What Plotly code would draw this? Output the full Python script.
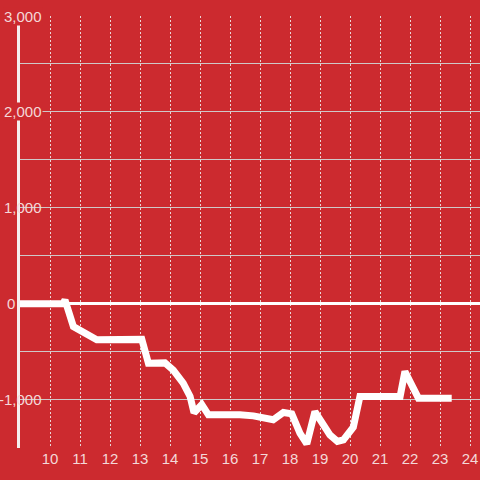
import plotly.graph_objects as go

# data
hours = [9.0, 10.43, 10.5, 10.78, 11.56, 13.06, 13.28, 13.83, 14.11, 14.44, 14.67, 14.8,
         15.06, 15.28, 16.33, 16.78, 17.44, 17.78, 18.06, 18.33, 18.56, 18.83, 19.33,
         19.58, 19.78, 20.11, 20.33, 21.67, 21.83, 22.28, 23.39]
values = [0, 0, 40, -236, -375, -370, -618, -615, -690, -826, -965, -1135,
          -1050, -1156, -1156, -1167, -1208, -1132, -1146, -1347, -1458, -1122, -1365,
          -1434, -1417, -1285, -965, -965, -705, -983, -983]
x_ticks = list(range(10, 25))
y_label_vals = [3000, 2000, 1000, 0, -1000]
y_label_text = ["3,000", "2,000", "1,000", "0", "-1,000"]

BG = "#cc2a2f"
LABEL = "#f4d8d8"
FONT = "Liberation Sans, Arial"

fig = go.Figure()
fig.add_trace(go.Scatter(x=hours, y=values, mode="lines",
                         line=dict(color="white", width=7), hoverinfo="skip"))

annotations = []
for v, t in zip(y_label_vals, y_label_text):
    px = 16 if v == 0 else 43
    annotations.append(dict(
        xref="paper", yref="y", x=(px - 20) / 460, y=v, text=t, showarrow=False,
        xanchor="right", yanchor="middle",
        bgcolor=BG if v >= 2000 else "rgba(0,0,0,0)",
        borderpad=0, font=dict(family=FONT, size=15, color=LABEL)))

fig.update_layout(
    width=480, height=480,
    margin=dict(l=20, r=0, t=16, b=32),
    paper_bgcolor=BG, plot_bgcolor=BG,
    showlegend=False,
    annotations=annotations,
    font=dict(family=FONT, size=15, color=LABEL),
    xaxis=dict(range=[9, 24.333], tickvals=x_ticks, ticktext=[str(v) for v in x_ticks],
               showgrid=True, gridcolor="#ead6d6", griddash="2px,2px", gridwidth=1,
               zeroline=False, showline=False, ticks="",
               tickfont=dict(family=FONT, size=15, color=LABEL), fixedrange=True),
    yaxis=dict(range=[-1502, 3000], dtick=500, tick0=0, showticklabels=False,
               showgrid=True, gridcolor="#cfc8c8", gridwidth=1,
               zeroline=True, zerolinecolor="white", zerolinewidth=3,
               showline=True, linecolor="#f5eeee", linewidth=3, ticks="",
               fixedrange=True),
)

fig.write_html("out.html", config={"displayModeBar": False},
               post_script="document.body.style.margin='0';document.body.style.overflow='hidden';")
